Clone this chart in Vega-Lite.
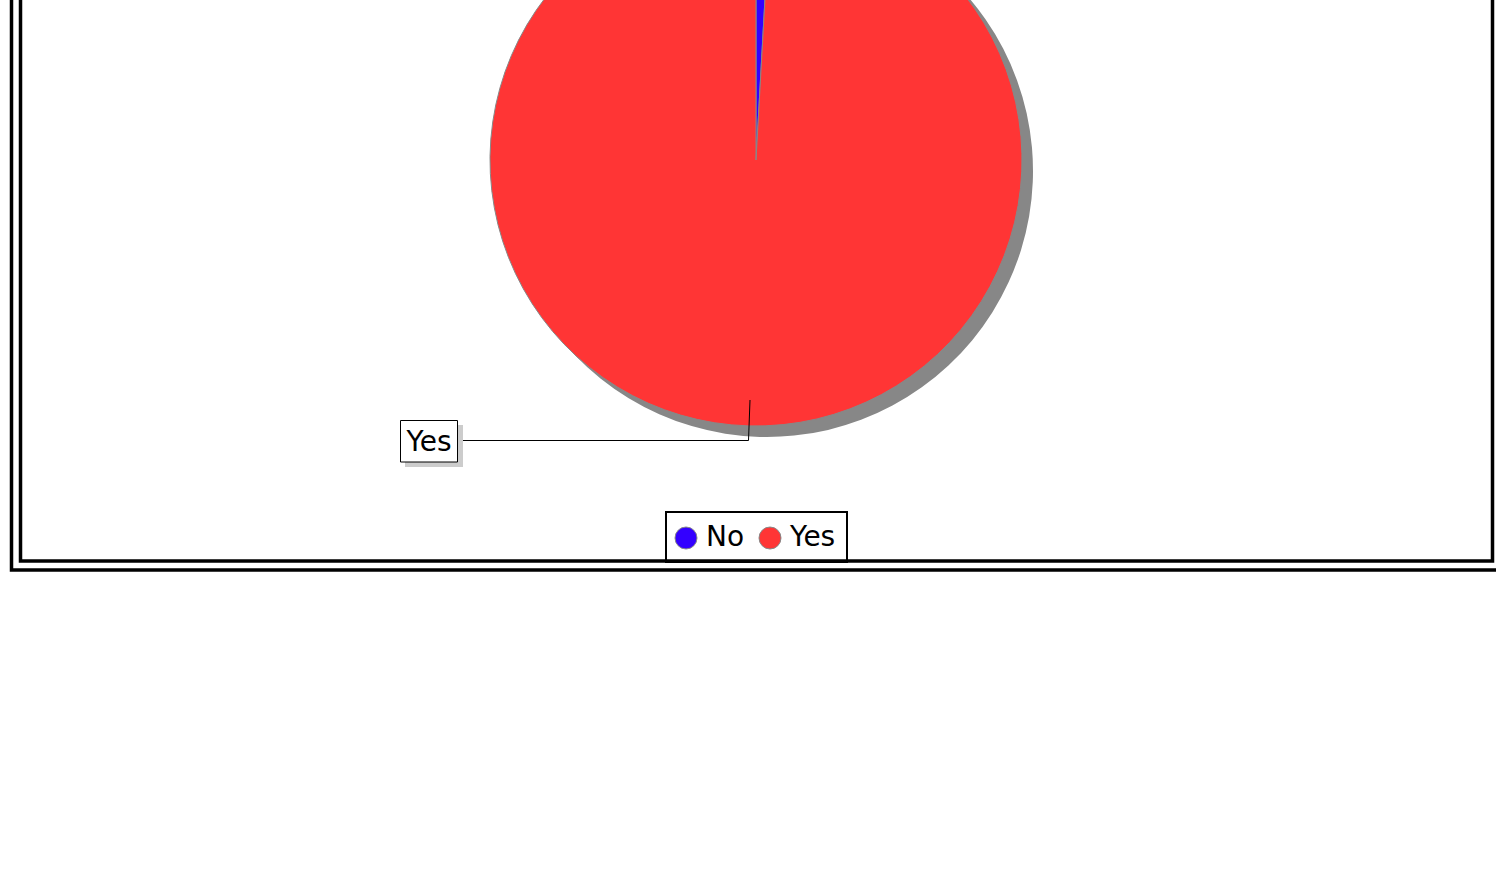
{
  "$schema": "https://vega.github.io/schema/vega-lite/v6.json",
  "width": 1496,
  "height": 880,
  "autosize": {"type": "none"},
  "padding": 0,
  "background": "white",
  "config": {"view": {"stroke": null}, "font": "DejaVu Sans"},
  "data": {"values": [{"answer": "No", "count": 1}, {"answer": "Yes", "count": 112}]},
  "layer": [
    {
      "mark": {"type": "arc", "radius": 266, "x": 767, "y": 171, "fill": "#878787", "strokeWidth": 0},
      "encoding": {"theta": {"field": "count", "type": "quantitative", "stack": true}}
    },
    {
      "mark": {"type": "arc", "radius": 266, "x": 756, "y": 160, "stroke": "#888888", "strokeWidth": 1},
      "encoding": {
        "theta": {"field": "count", "type": "quantitative", "stack": true},
        "color": {
          "field": "answer", "type": "nominal",
          "scale": {"domain": ["No", "Yes"], "range": ["#3300ff", "#ff3535"]},
          "legend": {
            "title": null, "orient": "none", "direction": "horizontal",
            "legendX": 665, "legendY": 517,
            "strokeColor": "transparent",
            "padding": 7, "symbolType": "circle", "symbolSize": 484,
            "symbolStrokeColor": "#888888", "symbolStrokeWidth": 1,
            "labelFontSize": 28, "labelFont": "DejaVu Sans", "labelColor": "black",
            "labelOffset": 6, "columnPadding": 11
          }
        },
        "order": {"field": "answer"}
      }
    },
    {
      "data": {"values": [{}]},
      "mark": {"type": "rect", "fill": "white", "stroke": "black", "strokeWidth": 2},
      "encoding": {"x": {"value": 666}, "x2": {"value": 847}, "y": {"value": 512}, "y2": {"value": 562}}
    },
    {
      "data": {"values": [{}]},
      "mark": {"type": "rule", "color": "black", "strokeWidth": 1},
      "encoding": {"x": {"value": 750}, "y": {"value": 400}, "x2": {"value": 748.5}, "y2": {"value": 440.5}}
    },
    {
      "data": {"values": [{}]},
      "mark": {"type": "rule", "color": "black", "strokeWidth": 1},
      "encoding": {"x": {"value": 748.5}, "y": {"value": 440.5}, "x2": {"value": 458}, "y2": {"value": 440.5}}
    },
    {
      "data": {"values": [{}]},
      "mark": {"type": "rect", "fill": "#cccccc"},
      "encoding": {"x": {"value": 405}, "x2": {"value": 463}, "y": {"value": 425}, "y2": {"value": 467}}
    },
    {
      "data": {"values": [{}]},
      "mark": {"type": "rect", "fill": "white", "stroke": "black", "strokeWidth": 1},
      "encoding": {"x": {"value": 400.5}, "x2": {"value": 457.5}, "y": {"value": 420.5}, "y2": {"value": 462}}
    },
    {
      "transform": [{"filter": "datum.answer == 'Yes'"}],
      "mark": {"type": "text", "fontSize": 28, "font": "DejaVu Sans", "color": "black", "align": "center", "baseline": "middle"},
      "encoding": {"text": {"field": "answer"}, "x": {"value": 429}, "y": {"value": 443}}
    },
    {
      "data": {"values": [{}]},
      "mark": {"type": "rect", "fill": "transparent", "stroke": "black", "strokeWidth": 3.5},
      "encoding": {"x": {"value": 20.5}, "x2": {"value": 1492.5}, "y": {"value": -20}, "y2": {"value": 561}}
    },
    {
      "data": {"values": [{}]},
      "mark": {"type": "rect", "fill": "transparent", "stroke": "black", "strokeWidth": 3.5},
      "encoding": {"x": {"value": 11.5}, "x2": {"value": 1510}, "y": {"value": -20}, "y2": {"value": 570}}
    }
  ]
}
